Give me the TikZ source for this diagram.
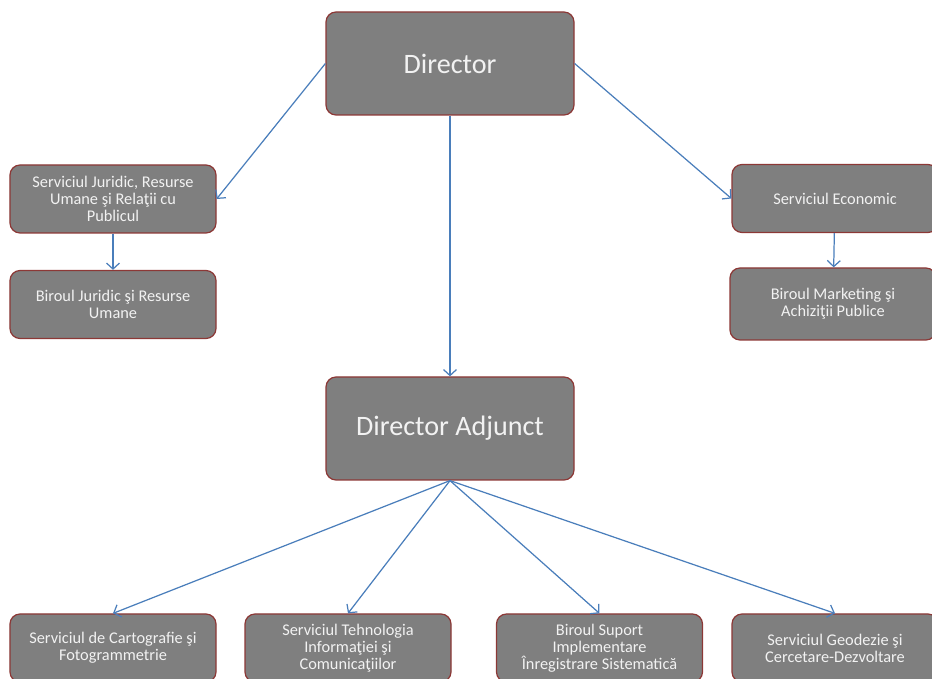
\documentclass[tikz,border=0pt]{standalone}
\usepackage{fontspec}
\setmainfont{Carlito}
\usetikzlibrary{positioning,arrows.meta}
\definecolor{boxgrey}{HTML}{7F7F7F}
\definecolor{boxred}{HTML}{8C3836}
\definecolor{boxtext}{HTML}{F2F2F2}
\definecolor{linkblue}{HTML}{4A7EBB}
\tikzset{
	unit/.style={draw=boxred, fill=boxgrey, rounded corners=0.2cm, line width=0.7pt,
		text=boxtext, align=center, inner sep=2pt,
		font=\fontsize{9.3}{9.6}\selectfont, minimum width=4.12cm, minimum height=1.36cm},
	head/.style={unit, font=\fontsize{16}{18}\selectfont, minimum width=4.96cm, minimum height=2.06cm},
	link/.style={draw=linkblue, line width=0.7pt, -{Straight Barb[length=1.2mm,width=2.6mm]}},
}

\begin{document}
\begin{tikzpicture}
	\useasboundingbox (0,0) rectangle (18.64,13.58);
	\clip (0,0) rectangle (18.64,13.58);
	% top level
	\node[head] (dir) at (9.0,12.31) {Director};
	\node[unit] (juridic) at (2.26,9.6) {Serviciul Juridic, Resurse\\Umane şi Relaţii cu\\Publicul};
	\node[unit] (birjur) at (2.26,7.49) {Biroul Juridic şi Resurse\\Umane};
	\node[unit] (econ) at (16.7,9.61) {Serviciul Economic};
	\node[unit, minimum height=1.44cm] (market) at (16.66,7.5) {Biroul Marketing şi\\Achiziţii Publice};
	\node[head] (adj) at (9.0,5.01) {Director Adjunct};
	% bottom row
	\node[unit] (carto) at (2.26,0.62) {Serviciul de Cartografie şi\\Fotogrammetrie};
	\node[unit] (tic) at (6.96,0.62) {Serviciul Tehnologia\\Informaţiei şi\\Comunicaţiilor};
	\node[unit] (suport) at (11.99,0.62) {Biroul Suport\\Implementare\\Înregistrare Sistematică};
	\node[unit] (geo) at (16.7,0.62) {Serviciul Geodezie şi\\Cercetare-Dezvoltare};
	% links
	\draw[link] (dir.west) -- (juridic.east);
	\draw[link] (dir.east) -- (econ.west);
	\draw[link] (dir.south) -- (adj.north);
	\draw[link] (juridic) -- (birjur);
	\draw[link] (econ) -- (market);
	\foreach \n in {carto,tic,suport,geo}
		\draw[link] (adj.south) -- (\n.north);
\end{tikzpicture}
\end{document}
